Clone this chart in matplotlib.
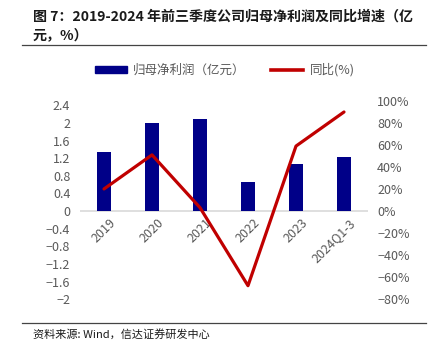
import numpy as np
import matplotlib
matplotlib.use("Agg")
import matplotlib.pyplot as plt
from matplotlib.lines import Line2D
from matplotlib.patches import Patch
from matplotlib.ticker import FuncFormatter

plt.rcParams["font.family"] = ["Noto Sans CJK SC", "DejaVu Sans"]

# ---- data ----
years = ["2019", "2020", "2021", "2022", "2023", "2024Q1-3"]
net_profit = [1.34, 2.01, 2.10, 0.66, 1.06, 1.22]      # 亿元
yoy = [0.20, 0.51, 0.03, -0.68, 0.59, 0.90]             # 同比

left_ticks = [-2, -1.6, -1.2, -0.8, -0.4, 0, 0.4, 0.8, 1.2, 1.6, 2, 2.4]
right_ticks = [-0.8, -0.6, -0.4, -0.2, 0, 0.2, 0.4, 0.6, 0.8, 1.0]

BAR_COLOR = "#000088"
LINE_COLOR = "#C00000"
TICK_COLOR = "#595959"

fig = plt.figure(figsize=(4.36, 3.48), dpi=100)

# title and rules
fig.text(33 / 436, 1 - 17 / 348, "图 7：2019-2024 年前三季度公司归母净利润及同比增速（亿",
         fontsize=10.1, fontweight="bold", color="#1a1a1a", va="center")
fig.text(33 / 436, 1 - 35 / 348, "元，%）",
         fontsize=10.1, fontweight="bold", color="#1a1a1a", va="center")
fig.add_artist(Line2D([22 / 436, 426 / 436], [1 - 45 / 348] * 2, color="#444444", lw=0.9))
fig.add_artist(Line2D([22 / 436, 426 / 436], [1 - 323 / 348] * 2, color="#444444", lw=0.9))
fig.text(33 / 436, 1 - 334 / 348, "资料来源: Wind，信达证券研发中心",
         fontsize=8, color="#1a1a1a", va="center")

# main axes
ax = fig.add_axes([80 / 436, (348 - 300) / 348, 288 / 436, 199 / 348])
x = np.arange(len(years))
ax.bar(x, net_profit, width=0.31, color=BAR_COLOR, zorder=2)
ax.set_xlim(-0.5, len(years) - 0.5)
ax.set_ylim(-2.02, 2.5)
ax.set_yticks(left_ticks)
ax.yaxis.set_major_formatter(FuncFormatter(lambda v, p: f"{v:g}".replace("-", "−")))
ax.axhline(0, color="#d9d9d9", lw=1.2, zorder=1)
ax.set_xticks([])
for xi, name in zip(x, years):
    ax.text(xi + 0.1, -0.12, name, rotation=45, ha="right", va="top",
            rotation_mode="anchor", fontsize=9, color=TICK_COLOR)
for s in ax.spines.values():
    s.set_visible(False)
ax.tick_params(axis="both", length=0, labelsize=9, colors=TICK_COLOR)
ax.tick_params(axis="y", pad=7)

ax2 = ax.twinx()
ax2.plot(x, yoy, color=LINE_COLOR, lw=2.3, solid_capstyle="round", zorder=3)
ax2.set_ylim(-0.81, 1.0)
ax2.set_yticks(right_ticks)
ax2.yaxis.set_major_formatter(FuncFormatter(lambda v, p: f"{v * 100:.0f}%".replace("-", "−")))
for s in ax2.spines.values():
    s.set_visible(False)
ax2.tick_params(axis="y", length=0, labelsize=9, colors=TICK_COLOR, pad=6.5)

# legend
handles = [Patch(color=BAR_COLOR), Line2D([], [], color=LINE_COLOR, lw=2.6)]
fig.legend(handles, ["归母净利润（亿元）", "同比(%)"], loc="center",
           bbox_to_anchor=(224.5 / 436, 1 - 70 / 348), ncol=2, frameon=False,
           fontsize=9, labelcolor=TICK_COLOR, handlelength=2.6,
           handleheight=0.5, columnspacing=2.0, handletextpad=0.5)

fig.savefig("out.png", dpi=100)
